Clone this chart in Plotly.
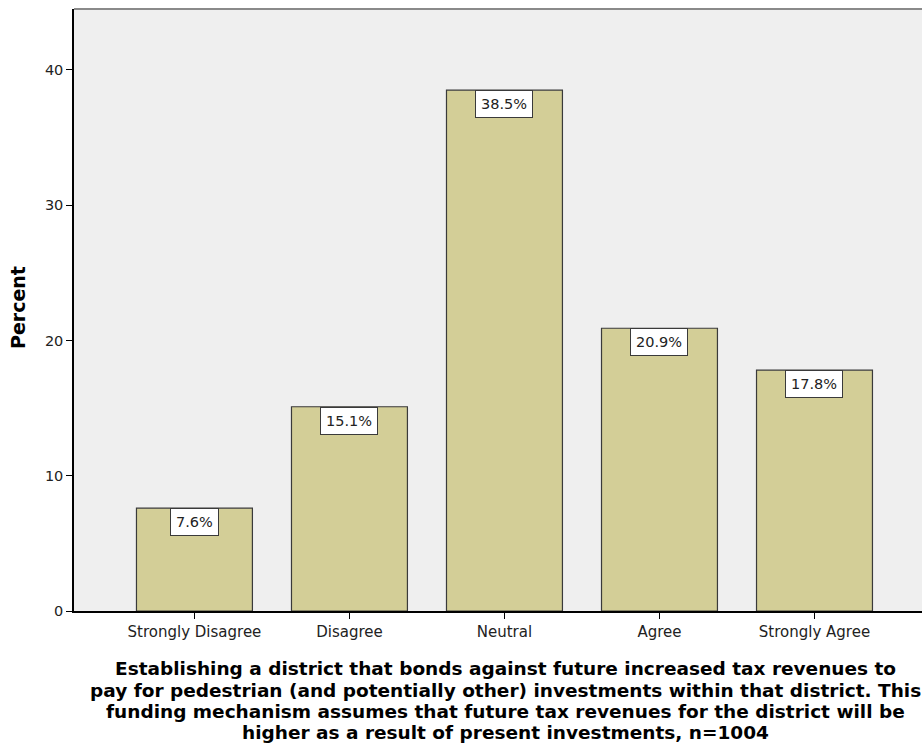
import plotly.graph_objects as go

categories = ["Strongly Disagree", "Disagree", "Neutral", "Agree", "Strongly Agree"]
percents = [7.6, 15.1, 38.5, 20.9, 17.8]
y_ticks = [0, 10, 20, 30, 40]
x_title_lines = [
    "Establishing a district that bonds against future increased tax revenues to",
    "pay for pedestrian (and potentially other) investments within that district. This",
    "funding mechanism assumes that future tax revenues for the district will be",
    "higher as a result of present investments, n=1004",
]
y_title = "Percent"

W, H = 922, 751
ML, MR, MT, MB = 74, 0, 9, 140
plot_w = W - ML - MR
plot_h = H - MT - MB


def px_to_paper_y(py):
    return (MT + plot_h - py) / plot_h


def px_to_paper_x(px):
    return (px - ML) / plot_w


fig = go.Figure()
fig.add_trace(go.Bar(
    x=list(range(len(categories))),
    y=percents,
    width=0.748,
    marker=dict(color="#d3ce97", line=dict(color="#3a3a3a", width=1.2)),
    hoverinfo="skip",
))

for i, v in enumerate(percents):
    fig.add_annotation(
        x=i, y=v, xref="x", yref="y",
        text=f"{v:.1f}%", showarrow=False,
        yanchor="top", xanchor="center",
        font=dict(family="DejaVu Sans", size=14.5, color="#222222"),
        bgcolor="white", bordercolor="#3a3a3a", borderwidth=1, borderpad=5,
    )

line_centers = [668, 690, 711, 732]
for txt, yc in zip(x_title_lines, line_centers):
    fig.add_annotation(
        x=px_to_paper_x(505), y=px_to_paper_y(yc), xref="paper", yref="paper",
        text=txt, showarrow=False, xanchor="center", yanchor="middle",
        font=dict(family="DejaVu Sans", size=18.5, color="black", weight="bold"),
    )

fig.add_annotation(
    x=px_to_paper_x(18), y=px_to_paper_y(308), xref="paper", yref="paper",
    text=y_title, showarrow=False, xanchor="center", yanchor="middle", textangle=-90,
    font=dict(family="DejaVu Sans", size=19, color="black", weight="bold"),
)

fig.add_shape(type="line", xref="paper", yref="paper", x0=0, x1=1, y0=1, y1=1,
              line=dict(color="#8a8a8a", width=2))

fig.update_layout(
    width=W, height=H,
    margin=dict(l=ML, r=MR, t=MT, b=MB, pad=0),
    paper_bgcolor="white", plot_bgcolor="#efefef",
    showlegend=False,
    xaxis=dict(
        range=[-0.777, (W - 194.5) / 155],
        tickvals=list(range(len(categories))), ticktext=categories,
        ticks="outside", ticklen=6, tickcolor="black", tickwidth=1,
        showline=True, linecolor="black", linewidth=1.5,
        showgrid=False, zeroline=False,
        tickfont=dict(family="DejaVu Sans", size=15, color="#222222"),
    ),
    yaxis=dict(
        range=[0, 44.5],
        tickvals=y_ticks,
        ticks="outside", ticklen=6, tickcolor="black", tickwidth=1,
        showline=True, linecolor="black", linewidth=1.5,
        showgrid=False, zeroline=False,
        tickfont=dict(family="DejaVu Sans", size=14.5, color="#222222"),
    ),
)

fig.write_html(
    "out.html",
    config={"displayModeBar": False},
    post_script="document.body.style.margin='0';document.body.style.overflow='hidden';",
)
